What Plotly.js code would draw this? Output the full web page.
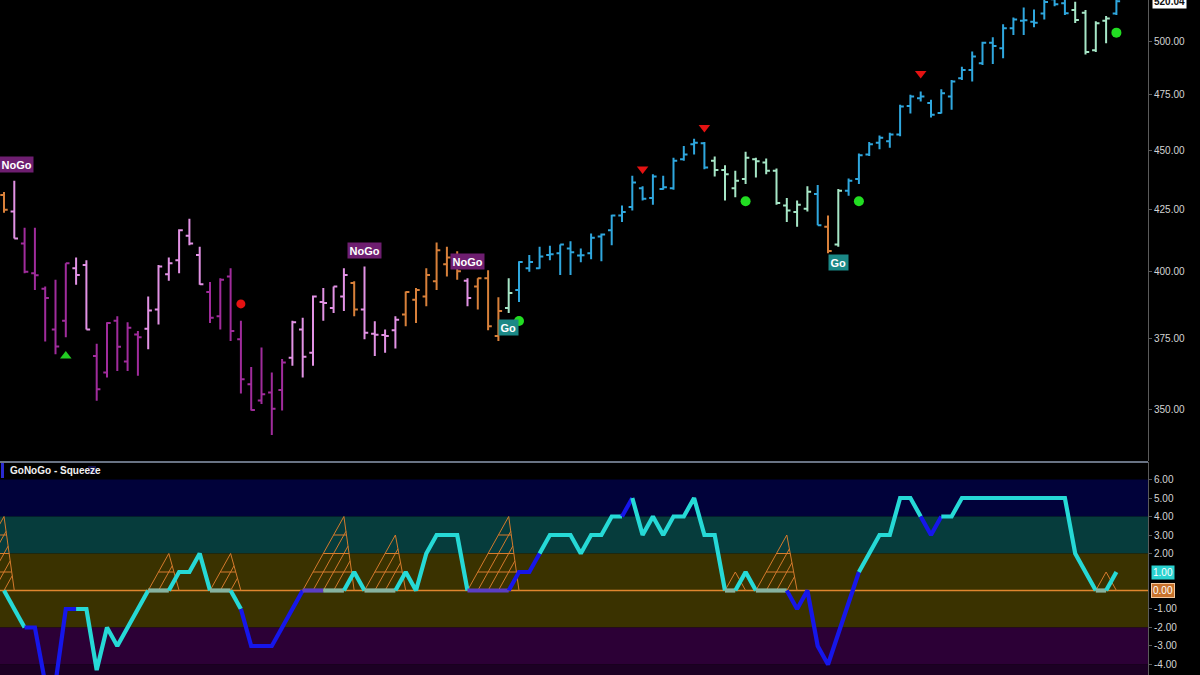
<!DOCTYPE html>
<html><head><meta charset="utf-8">
<script src="https://cdn.plot.ly/plotly-3.0.1.min.js"></script>
<style>html,body{margin:0;padding:0;background:#000;overflow:hidden}#chart{width:1200px;height:675px}</style>
</head><body><div id="chart"></div>
<script>
// ---- price bars (OHLC) ----
const open  = [430.9,424.1,411.1,399.4,393.4,378.2,381.4,401.3,402.6,368.6,
               362.7,381.4,366.6,376.4,378.5,385.6,399.0,404.5,414.2,406.5,
               392.2,383.1,398.1,374.6,358.6,353.0,355.8,356.6,368.0,378.2,
               369.8,388.4,386.2,390.5,395.6,385.6,376.6,376.2,377.9,383.7,
               389.3,390.5,396.3,402.9,402.6,396.5,394.3,397.5,375.8,386.2,
               393.0,401.3,401.3,406.5,407.2,409.1,406.3,407.2,413.9,416.4,
               422.4,425.9,433.7,429.6,433.4,433.7,446.1,452.6,453.1,445.4,
               441.5,433.7,437.6,446.1,444.7,441.1,426.5,423.8,425.2,431.3,
               417.8,410.7,432.7,437.6,448.2,453.3,454.0,456.9,469.8,473.3,
               471.1,466.6,474.1,482.6,486.5,489.6,499.5,496.8,506.5,510.2,
               509.8,513.9,521.0,519.0,515.6,514.2,495.9,510.2,513.9];
const high  = [432.2,436.9,417.4,417.4,394.3,396.9,403.3,405.5,404.5,373.0,
               380.9,383.1,380.9,377.6,390.5,402.6,405.5,416.8,421.1,409.8,
               396.0,397.5,401.3,381.4,364.7,371.6,362.7,367.5,381.4,382.5,
               390.9,393.7,394.3,401.3,396.3,402.0,381.2,378.2,383.1,392.4,
               393.7,401.3,411.5,409.8,408.0,397.5,397.5,400.6,390.2,397.5,
               404.1,406.5,409.8,410.2,410.7,412.0,409.1,415.1,415.1,422.7,
               426.5,439.0,434.6,439.7,439.0,446.8,451.9,455.1,453.6,447.3,
               443.5,441.1,449.4,446.8,446.4,442.1,429.6,428.6,434.6,435.1,
               422.4,433.4,437.9,448.6,453.6,456.5,457.7,470.3,474.9,476.4,
               472.6,477.4,481.8,488.0,495.2,500.0,502.1,508.5,511.8,516.9,
               515.9,522.1,524.0,522.0,519.8,515.6,510.0,512.6,520.6];
const low   = [423.5,413.1,399.4,393.0,373.8,369.2,375.4,395.0,378.2,352.9,
               361.0,363.3,363.3,361.6,371.0,380.0,396.5,399.4,410.4,395.0,
               380.6,378.2,374.0,355.4,349.6,351.8,341.4,349.6,365.1,361.0,
               365.1,381.4,384.3,385.0,383.1,374.6,368.6,369.8,371.3,379.4,
               380.6,386.8,393.0,398.1,396.9,386.8,385.6,377.9,374.0,384.3,
               388.4,400.0,401.1,404.5,398.7,398.7,403.7,404.9,404.1,410.4,
               419.8,424.5,428.6,426.8,433.1,433.1,445.4,448.2,441.8,438.7,
               428.6,430.0,435.5,438.3,439.7,426.8,419.8,417.8,424.1,418.4,
               407.2,409.8,430.6,435.5,447.5,450.4,451.1,456.2,466.3,471.8,
               464.5,466.3,468.1,481.8,481.0,488.8,489.3,492.0,503.2,503.2,
               507.0,510.9,517.5,513.1,509.1,493.8,495.0,499.2,513.1];
const close = [424.8,413.1,400.0,398.6,389.9,372.0,403.3,398.7,378.2,356.9,
               380.6,371.9,378.8,375.4,385.2,402.0,403.3,416.4,411.1,395.2,
               382.5,396.9,377.6,360.4,349.8,355.2,350.2,366.3,380.9,368.3,
               390.5,388.0,394.3,398.7,385.6,377.0,376.3,375.8,381.8,392.2,
               393.0,398.7,408.4,405.5,400.2,389.9,397.5,379.4,385.0,391.8,
               403.8,403.8,405.9,406.8,410.7,407.6,406.4,413.4,414.7,422.4,
               423.8,436.2,429.3,438.7,434.1,445.4,448.2,453.3,442.5,441.5,
               439.7,436.9,446.8,445.2,441.1,427.6,424.5,426.8,432.3,418.4,
               408.1,432.7,436.9,447.8,452.6,455.5,456.9,469.5,474.1,474.1,
               465.8,475.6,481.0,486.5,492.8,499.5,497.9,506.5,510.9,510.5,
               509.3,519.6,518.5,514.0,510.6,495.0,509.0,511.4,520.04];
// GoNoGo state per bar: P strong NoGo, K weak NoGo, O amber, G weak Go, B strong Go
const barState = ['O','K','P','P','P','P','P','K','K','P',
                  'P','P','P','P','K','K','K','K','K','K',
                  'P','P','P','P','P','P','P','P','K','K',
                  'K','K','K','K','O','K','K','K','K','O',
                  'O','O','O','O','O','K','O','O','O','G',
                  'B','B','B','B','B','B','B','B','B','B',
                  'B','B','B','B','B','B','B','B','B','G',
                  'G','G','G','G','G','G','G','G','G','B',
                  'O','G','B','B','B','B','B','B','B','B',
                  'B','B','B','B','B','B','B','B','B','B',
                  'B','B','B','B','G','G','G','G','B'];

// ---- signals ----
const trendDownBar = [62, 68, 89];   const trendDownPrice = [441.9, 460.0, 484.8];
const redDotBar    = [1, 23];        const redDotPrice    = [444.0, 387.7];
const trendUpBar   = [6];            const trendUpPrice   = [368.6];
const greenDotBar  = [50, 72, 83, 108]; const greenDotPrice = [381.3, 428.3, 428.3, 504.4];
const noGoLabelBar = [1.2, 35, 45];  const noGoLabelPrice = [444.0, 408.4, 404.1];
const goLabelBar   = [49, 81];       const goLabelPrice   = [378.8, 403.7];
const priceTicks   = [350, 375, 400, 425, 450, 475, 500];

// ---- GoNoGo squeeze oscillator ----
const squeeze = [0,-1,-2,-2,-5,-5,-1,-1,-1,-4.3,
                 -2,-3,-2,-1,0,0,0,1,1,2,
                 0,0,0,-1,-3,-3,-3,-2,-1,0,
                 0,0,0,0,1,0,0,0,0,1,
                 0,2,3,3,3,0,0,0,0,0,
                 1,1,2,3,3,3,2,3,3,4,
                 4,5,3,4,3,4,4,5,3,3,
                 0,0,1,0,0,0,0,-1,0,-3,
                 -4,-2.3,-0.6,1,2,3,3,5,5,4,
                 3,4,4,5,5,5,5,5,5,5,
                 5,5,5,5,2,1,0,0,1];
// colour of the segment arriving at each point: c cyan, b blue, g flat (grey-green), p flat (violet)
const squeezeSeg = ['g','c','c','b','b','b','b','b','c','c',
                    'c','c','c','c','c','g','g','c','c','c',
                    'c','g','g','c','b','b','b','b','b','b',
                    'p','p','g','g','c','c','g','g','g','c',
                    'c','c','c','c','c','c','p','p','p','p',
                    'b','b','b','c','c','c','c','c','c','c',
                    'c','b','c','c','c','c','c','c','c','c',
                    'c','g','c','c','g','g','g','b','b','b',
                    'b','b','b','b','c','c','c','c','c','c',
                    'b','b','c','c','c','c','c','c','c','c',
                    'c','c','c','c','c','c','c','g','c'];
const squeezeStart = [-4, 14, 20, 29, 35, 45, 70, 73, 106];
const squeezeEnd   = [ 0, 16, 22, 33, 38, 49, 71, 76, 107];
const oscTicks = [-4,-3,-2,-1,2,3,4,5,6];

// ---------------- build ----------------
const idx = open.map((_, i) => i);
const stateColor = {P:'#a02c9c', K:'#e292e4', O:'#d8803a', G:'#a6e6c6', B:'#2fa7de'};
const segColor = {c:'#26d9d6', b:'#1616ea', g:'#86b3a0', p:'#5b3ec4'};
const traces = [];

Object.keys(stateColor).forEach(s => {
  const ii = idx.filter(i => barState[i] === s);
  const col = stateColor[s];
  traces.push({type:'ohlc', x: ii, open: ii.map(i=>open[i]), high: ii.map(i=>high[i]),
    low: ii.map(i=>low[i]), close: ii.map(i=>close[i]), tickwidth: 0.36,
    increasing:{line:{color:col, width:2}}, decreasing:{line:{color:col, width:2}},
    xaxis:'x', yaxis:'y', hoverinfo:'skip', showlegend:false});
});

function markers(x, y, sym, col, size){
  traces.push({type:'scatter', mode:'markers', x:x, y:y, xaxis:'x', yaxis:'y',
    marker:{symbol:sym, color:col, size:size, line:{width:0}}, hoverinfo:'skip', showlegend:false});
}
markers(trendDownBar, trendDownPrice, 'triangle-down', '#e41212', 10);
markers(redDotBar, redDotPrice, 'circle', '#e41212', 9);
markers(trendUpBar, trendUpPrice, 'triangle-up', '#22cc22', 10);
markers(greenDotBar, greenDotPrice, 'circle', '#22dd22', 10);

// zero line of oscillator
traces.push({type:'scatter', mode:'lines', x:[-5, 115], y:[0, 0], xaxis:'x2', yaxis:'y2',
  line:{color:'#e0862e', width:1.6}, hoverinfo:'skip', showlegend:false});

// squeeze pyramids: outline, ladder lines parallel to the left edge, level lines
const px = [], py = [];
squeezeStart.forEach((s, k) => {
  const e = squeezeEnd[k], H = e - s;
  if (H < 1) return;
  px.push(s, e, e + 1, null); py.push(0, H, 0, null);
  for (let j = 1; j <= H; j++) {
    const v = (H + 1 - j) * H / (H + 1);
    px.push(s + j, s + j + v, null); py.push(0, v, null);
  }
  for (let l = 1; l < H; l++) { px.push(s + l, e + 1 - l / H, null); py.push(l, l, null); }
});
traces.push({type:'scatter', mode:'lines', x:px, y:py, xaxis:'x2', yaxis:'y2',
  line:{color:'#d47a2c', width:1}, hoverinfo:'skip', showlegend:false});

// squeeze line, split into coloured runs
let runStart = 1;
for (let i = 1; i <= squeeze.length; i++) {
  if (i === squeeze.length || squeezeSeg[i] !== squeezeSeg[runStart]) {
    const xs = [], ys = [];
    for (let k = runStart - 1; k < i; k++) { xs.push(k); ys.push(squeeze[k]); }
    traces.push({type:'scatter', mode:'lines', x:xs, y:ys, xaxis:'x2', yaxis:'y2',
      line:{color:segColor[squeezeSeg[runStart]], width:4.2}, hoverinfo:'skip', showlegend:false});
    runStart = i;
  }
}

const W = 1200, H = 675, plotR = 1148;
const PX = p => p / plotR;            // pixel -> paper x (plot area starts at 0)
const xr = [-4 / 10.3, (plotR - 4) / 10.3];
const tickFont = {family:'Liberation Sans, Arial, sans-serif', size:10, color:'#d4d4d4'};
const lg = v => Math.log10(v);

const annotations = [];
noGoLabelBar.forEach((b, k) => annotations.push({xref:'x', yref:'y', x:b, y:lg(noGoLabelPrice[k]),
  text:'<b>NoGo</b>', showarrow:false, bgcolor:'#6e1e70', borderpad:1.5,
  font:{family:'Liberation Sans, Arial', size:11, color:'#ffffff'}}));
goLabelBar.forEach((b, k) => annotations.push({xref:'x', yref:'y', x:b, y:lg(goLabelPrice[k]),
  text:'<b>Go</b>', showarrow:false, bgcolor:'#1b8886', borderpad:1.5,
  font:{family:'Liberation Sans, Arial', size:11, color:'#ffffff'}}));
annotations.push({xref:'paper', yref:'y', x:PX(1152), y:lg(close[close.length - 1]), xanchor:'left',
  text:'<b>' + close[close.length - 1].toFixed(2) + '</b>', showarrow:false, bgcolor:'#ffffff',
  borderpad:1, font:{family:'Liberation Sans, Arial', size:10, color:'#111'}});
annotations.push({xref:'paper', yref:'y2', x:PX(1151), y:squeeze[squeeze.length - 1], xanchor:'left',
  text:squeeze[squeeze.length - 1].toFixed(2), showarrow:false, bgcolor:'#2ad2d0',
  borderpad:1, font:{family:'Liberation Sans, Arial', size:10, color:'#ffffff'}});
annotations.push({xref:'paper', yref:'y2', x:PX(1151), y:0, xanchor:'left',
  text:(0).toFixed(2), showarrow:false, bgcolor:'#c8722c', bordercolor:'#f2c8a0', borderwidth:1,
  borderpad:1, font:{family:'Liberation Sans, Arial', size:10, color:'#ffffff'}});
annotations.push({xref:'paper', yref:'paper', x:PX(8), y:(H - 470) / H, xanchor:'left', yanchor:'middle',
  text:'<b>GoNoGo - Squeeze</b>', showarrow:false,
  font:{family:'Liberation Sans, Arial', size:10, color:'#f0f0f0'}});

const band = (y0, y1, c) => ({type:'rect', xref:'paper', yref:'y2', x0:0, x1:1, y0:y0, y1:y1,
  fillcolor:c, line:{width:0}, layer:'below'});
const shapes = [
  band(4, 6, '#01023a'), band(2, 4, '#063c3c'), band(-2, 2, '#3a3200'),
  band(-4, -2, '#2c0036'), band(-10, -4, '#1c0024'),
  {type:'line', xref:'paper', yref:'paper', x0:0, x1:1, y0:(H - 462) / H, y1:(H - 462) / H,
   line:{color:'#8d9ab0', width:1.5}},
  {type:'rect', xref:'paper', yref:'paper', x0:PX(1), x1:PX(4), y0:(H - 478) / H, y1:(H - 463) / H,
   fillcolor:'#2a2ad0', line:{width:0}},
  {type:'rect', xref:'paper', yref:'paper', x0:PX(88), x1:PX(96), y0:(H - 474) / H, y1:(H - 466) / H,
   fillcolor:'#14144a', line:{width:0}}
];

const layout = {
  width:W, height:H, margin:{l:0, r:W - plotR, t:0, b:0, pad:0},
  paper_bgcolor:'#000', plot_bgcolor:'#000', showlegend:false, dragmode:false,
  xaxis:{domain:[0, 1], range:xr, anchor:'y', visible:false, rangeslider:{visible:false}, fixedrange:true},
  xaxis2:{domain:[0, 1], range:xr, anchor:'y2', visible:false, matches:'x', fixedrange:true},
  yaxis:{domain:[(H - 461) / H, 1], type:'log', range:[lg(332.9), lg(520.62)], side:'right',
    tickvals:priceTicks, ticktext:priceTicks.map(v => v.toFixed(2)), tickfont:tickFont,
    showgrid:false, zeroline:false, showline:true, linecolor:'#5a5a5a', linewidth:1,
    ticks:'outside', ticklen:3, tickcolor:'#5a5a5a', automargin:false, fixedrange:true},
  yaxis2:{domain:[0, (H - 462) / H], range:[-4.568, 6.946], side:'right',
    tickvals:oscTicks, ticktext:oscTicks.map(v => v.toFixed(2)), tickfont:tickFont,
    showgrid:false, zeroline:false, showline:true, linecolor:'#5a5a5a', linewidth:1,
    ticks:'outside', ticklen:3, tickcolor:'#5a5a5a', automargin:false, fixedrange:true},
  shapes:shapes, annotations:annotations
};

Plotly.newPlot('chart', traces, layout, {staticPlot:true, displayModeBar:false});
</script></body></html>
